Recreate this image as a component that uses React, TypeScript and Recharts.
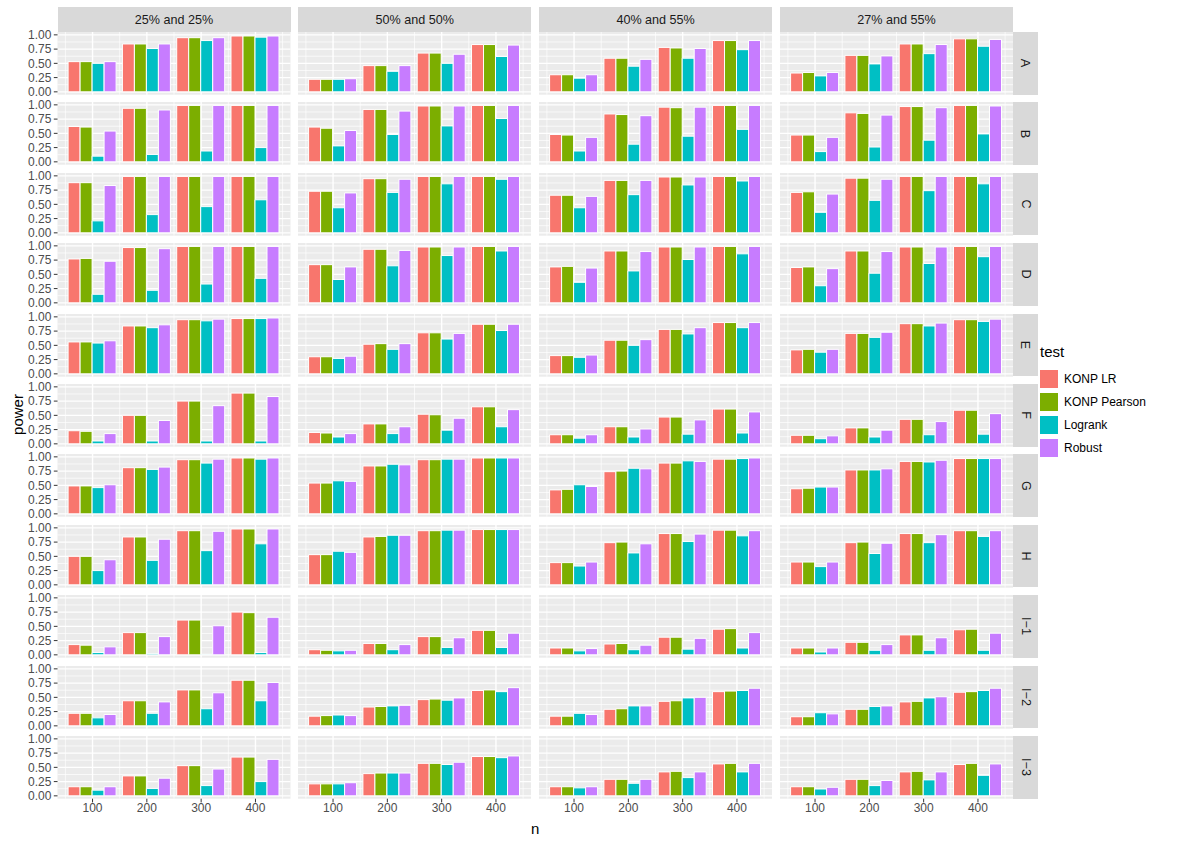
import React from "react";
import { BarChart, Bar, XAxis, YAxis, CartesianGrid } from "recharts";

const scenarios = ["25% and 25%", "50% and 50%", "40% and 55%", "27% and 55%"];
const models = ["A", "B", "C", "D", "E", "F", "G", "H", "I\u22121", "I\u22122", "I\u22123"];
const sizes = [100, 200, 300, 400];
const tests = ["KONP LR", "KONP Pearson", "Logrank", "Robust"];
const testColors = ["#F8766D", "#7CAE00", "#00BFC4", "#C77CFF"];
const yTicks = [0, 0.25, 0.5, 0.75, 1];
const yMinor = [0.125, 0.375, 0.625, 0.875];
const xMinor = [50, 150, 250, 350, 450];

// power[model][n] -> [KONP LR, KONP Pearson, Logrank, Robust]
const power25and25 = [
  [[0.53, 0.53, 0.5, 0.53], [0.84, 0.84, 0.76, 0.84], [0.95, 0.95, 0.9, 0.95], [0.98, 0.98, 0.96, 0.98]],
  [[0.62, 0.61, 0.1, 0.54], [0.94, 0.94, 0.13, 0.91], [0.99, 0.99, 0.19, 0.99], [0.99, 0.99, 0.25, 0.99]],
  [[0.88, 0.88, 0.21, 0.83], [0.99, 0.99, 0.32, 0.99], [0.99, 0.99, 0.46, 0.99], [0.99, 0.99, 0.58, 0.99]],
  [[0.77, 0.78, 0.15, 0.73], [0.97, 0.97, 0.22, 0.95], [0.99, 0.99, 0.33, 0.99], [0.99, 0.99, 0.43, 0.99]],
  [[0.56, 0.56, 0.54, 0.58], [0.84, 0.84, 0.81, 0.86], [0.95, 0.95, 0.93, 0.96], [0.97, 0.97, 0.97, 0.98]],
  [[0.23, 0.22, 0.05, 0.18], [0.5, 0.5, 0.05, 0.41], [0.75, 0.75, 0.05, 0.67], [0.89, 0.89, 0.05, 0.83]],
  [[0.49, 0.49, 0.46, 0.51], [0.81, 0.81, 0.78, 0.82], [0.95, 0.95, 0.89, 0.96], [0.98, 0.98, 0.96, 0.98]],
  [[0.5, 0.5, 0.25, 0.44], [0.84, 0.84, 0.43, 0.8], [0.95, 0.95, 0.6, 0.94], [0.98, 0.98, 0.72, 0.98]],
  [[0.18, 0.17, 0.04, 0.14], [0.39, 0.39, 0.02, 0.32], [0.61, 0.61, 0.01, 0.51], [0.75, 0.74, 0.04, 0.66]],
  [[0.22, 0.22, 0.14, 0.2], [0.44, 0.44, 0.22, 0.42], [0.63, 0.63, 0.3, 0.58], [0.8, 0.8, 0.44, 0.76]],
  [[0.16, 0.16, 0.1, 0.16], [0.35, 0.35, 0.13, 0.31], [0.53, 0.53, 0.18, 0.47], [0.68, 0.68, 0.25, 0.64]],
];

const power50and50 = [
  [[0.22, 0.22, 0.22, 0.23], [0.46, 0.46, 0.36, 0.46], [0.68, 0.68, 0.5, 0.66], [0.83, 0.83, 0.62, 0.82]],
  [[0.61, 0.59, 0.28, 0.55], [0.92, 0.92, 0.48, 0.89], [0.98, 0.98, 0.63, 0.98], [0.99, 0.99, 0.76, 0.99]],
  [[0.73, 0.73, 0.44, 0.7], [0.95, 0.95, 0.71, 0.94], [0.99, 0.99, 0.86, 0.99], [0.99, 0.99, 0.94, 0.99]],
  [[0.67, 0.67, 0.41, 0.63], [0.94, 0.94, 0.65, 0.92], [0.98, 0.98, 0.83, 0.98], [0.99, 0.99, 0.91, 0.99]],
  [[0.3, 0.3, 0.27, 0.31], [0.52, 0.53, 0.43, 0.53], [0.72, 0.72, 0.61, 0.71], [0.87, 0.87, 0.76, 0.87]],
  [[0.2, 0.19, 0.12, 0.18], [0.35, 0.35, 0.18, 0.3], [0.52, 0.51, 0.24, 0.45], [0.65, 0.65, 0.3, 0.6]],
  [[0.54, 0.54, 0.58, 0.57], [0.84, 0.84, 0.87, 0.86], [0.95, 0.95, 0.96, 0.96], [0.98, 0.98, 0.98, 0.98]],
  [[0.53, 0.53, 0.59, 0.57], [0.84, 0.85, 0.87, 0.87], [0.95, 0.95, 0.96, 0.96], [0.97, 0.97, 0.97, 0.97]],
  [[0.09, 0.08, 0.07, 0.08], [0.2, 0.2, 0.09, 0.18], [0.32, 0.32, 0.13, 0.3], [0.43, 0.43, 0.13, 0.38]],
  [[0.17, 0.18, 0.19, 0.18], [0.33, 0.34, 0.35, 0.36], [0.46, 0.47, 0.45, 0.49], [0.62, 0.63, 0.6, 0.67]],
  [[0.21, 0.21, 0.21, 0.23], [0.39, 0.4, 0.4, 0.4], [0.57, 0.57, 0.55, 0.59], [0.69, 0.69, 0.67, 0.7]],
];

const power40and55 = [
  [[0.3, 0.3, 0.24, 0.3], [0.59, 0.59, 0.45, 0.57], [0.78, 0.77, 0.59, 0.76], [0.9, 0.9, 0.74, 0.9]],
  [[0.48, 0.47, 0.19, 0.43], [0.84, 0.83, 0.31, 0.81], [0.96, 0.95, 0.45, 0.96], [0.99, 0.99, 0.57, 0.99]],
  [[0.66, 0.66, 0.44, 0.64], [0.92, 0.92, 0.67, 0.92], [0.98, 0.98, 0.84, 0.98], [0.99, 0.99, 0.91, 0.99]],
  [[0.63, 0.64, 0.36, 0.61], [0.91, 0.91, 0.56, 0.9], [0.98, 0.98, 0.76, 0.98], [0.99, 0.99, 0.86, 0.99]],
  [[0.32, 0.32, 0.29, 0.33], [0.59, 0.59, 0.5, 0.6], [0.78, 0.78, 0.7, 0.81], [0.9, 0.9, 0.81, 0.9]],
  [[0.16, 0.16, 0.1, 0.16], [0.3, 0.3, 0.12, 0.26], [0.47, 0.47, 0.17, 0.42], [0.61, 0.61, 0.19, 0.56]],
  [[0.42, 0.43, 0.51, 0.48], [0.74, 0.75, 0.8, 0.79], [0.89, 0.89, 0.93, 0.92], [0.96, 0.96, 0.97, 0.98]],
  [[0.39, 0.39, 0.33, 0.4], [0.74, 0.75, 0.56, 0.72], [0.9, 0.9, 0.76, 0.89], [0.96, 0.96, 0.86, 0.95]],
  [[0.12, 0.12, 0.07, 0.11], [0.19, 0.2, 0.09, 0.17], [0.31, 0.31, 0.1, 0.29], [0.45, 0.46, 0.12, 0.39]],
  [[0.17, 0.17, 0.22, 0.2], [0.29, 0.3, 0.35, 0.35], [0.43, 0.44, 0.49, 0.5], [0.6, 0.61, 0.62, 0.66]],
  [[0.16, 0.16, 0.14, 0.16], [0.29, 0.29, 0.22, 0.29], [0.42, 0.43, 0.32, 0.42], [0.56, 0.57, 0.42, 0.57]],
];

const power27and55 = [
  [[0.33, 0.34, 0.28, 0.34], [0.64, 0.64, 0.49, 0.63], [0.84, 0.84, 0.67, 0.83], [0.93, 0.93, 0.8, 0.92]],
  [[0.47, 0.47, 0.18, 0.43], [0.86, 0.85, 0.26, 0.82], [0.97, 0.97, 0.38, 0.95], [0.99, 0.99, 0.49, 0.98]],
  [[0.71, 0.72, 0.36, 0.68], [0.96, 0.96, 0.57, 0.94], [0.99, 0.99, 0.74, 0.99], [0.99, 0.99, 0.86, 0.99]],
  [[0.62, 0.63, 0.3, 0.6], [0.91, 0.91, 0.52, 0.9], [0.98, 0.98, 0.69, 0.98], [0.99, 0.99, 0.81, 0.99]],
  [[0.42, 0.43, 0.38, 0.43], [0.71, 0.71, 0.64, 0.73], [0.88, 0.88, 0.84, 0.89], [0.95, 0.95, 0.92, 0.96]],
  [[0.15, 0.15, 0.09, 0.14], [0.28, 0.28, 0.12, 0.24], [0.43, 0.43, 0.16, 0.39], [0.59, 0.59, 0.17, 0.53]],
  [[0.44, 0.45, 0.47, 0.47], [0.77, 0.77, 0.77, 0.79], [0.92, 0.92, 0.91, 0.94], [0.97, 0.97, 0.97, 0.97]],
  [[0.4, 0.4, 0.32, 0.4], [0.74, 0.75, 0.55, 0.73], [0.9, 0.9, 0.74, 0.88], [0.95, 0.95, 0.85, 0.95]],
  [[0.12, 0.12, 0.05, 0.12], [0.22, 0.22, 0.08, 0.18], [0.35, 0.35, 0.08, 0.3], [0.44, 0.45, 0.08, 0.38]],
  [[0.16, 0.16, 0.23, 0.21], [0.29, 0.29, 0.34, 0.35], [0.42, 0.43, 0.49, 0.51], [0.59, 0.6, 0.62, 0.66]],
  [[0.16, 0.16, 0.12, 0.15], [0.29, 0.29, 0.18, 0.27], [0.42, 0.43, 0.28, 0.42], [0.55, 0.57, 0.36, 0.56]],
];

const powerByScenario = [power25and25, power50and50, power40and55, power27and55];

// layout
const PANEL_W = 233;
const PANEL_H = 62.7;
const COL_X0 = 57.5;
const COL_STEP = 240.8;
const ROW_Y0 = 31.9;
const ROW_STEP = 70.4;
const Y_AXIS_W = 57.5;
const X_AXIS_H = 22;
const PAD = 8; // room so the end tick labels are not clipped
const STRIP = 24.5;
const FONT = '"Liberation Sans", Arial, Helvetica, sans-serif';
const TICK_FONT = 12;
const STRIP_FONT = 12.6;

const X_DOMAIN = [35.5, 464.5];
const Y_DOMAIN = [-0.05, 1.05];

const sc = (axis: any, v: number) => {
  if (!axis || !axis.scale) return 0;
  const s = axis.scale;
  return typeof s === "function" ? s(v) : s.map(v);
};

const Panel = ({ values, showY, showX, left, top }: any) => {
  const data = sizes.map((n, i) => {
    const row: any = { n };
    tests.forEach((t, k) => (row[t] = values[i][k]));
    return row;
  });
  const w = PANEL_W + (showY ? Y_AXIS_W : 0);
  const h = PANEL_H + (showX ? X_AXIS_H : 0) + 2 * PAD;

  return (
    <div style={{ position: "absolute", left: left - (showY ? Y_AXIS_W : 0), top: top - PAD }}>
      <BarChart
        width={w}
        height={h}
        data={data}
        margin={{ top: PAD, right: 0, bottom: PAD, left: 0 }}
        barCategoryGap="5%"
        barGap={0}
      >
        <CartesianGrid
          fill="#EBEBEB"
          stroke="#FFFFFF"
          strokeWidth={0.7}
          horizontalCoordinatesGenerator={({ yAxis }: any) => yMinor.map((v) => sc(yAxis, v))}
          verticalCoordinatesGenerator={({ xAxis }: any) => xMinor.map((v) => sc(xAxis, v))}
        />
        <CartesianGrid
          stroke="#FFFFFF"
          strokeWidth={1.4}
          horizontalCoordinatesGenerator={({ yAxis }: any) => yTicks.map((v) => sc(yAxis, v))}
          verticalCoordinatesGenerator={({ xAxis }: any) => sizes.map((v) => sc(xAxis, v))}
        />
        <XAxis
          dataKey="n"
          type="number"
          domain={X_DOMAIN}
          ticks={sizes}
          interval={0}
          allowDataOverflow
          hide={!showX}
          height={X_AXIS_H}
          axisLine={false}
          tickLine={{ stroke: "#333333" }}
          tickSize={3.7}
          tickMargin={1.5}
          tick={{ fill: "#4D4D4D", fontSize: TICK_FONT }}
        />
        <YAxis
          type="number"
          domain={Y_DOMAIN}
          ticks={yTicks}
          interval={0}
          allowDataOverflow
          hide={!showY}
          width={Y_AXIS_W}
          axisLine={false}
          tickLine={{ stroke: "#333333" }}
          tickSize={3.7}
          tickMargin={2.5}
          tick={{ fill: "#4D4D4D", fontSize: TICK_FONT }}
          tickFormatter={(v: number) => v.toFixed(2)}
        />
        {tests.map((t, k) => (
          <Bar
            key={t}
            dataKey={t}
            fill={testColors[k]}
            stroke="#FFFFFF"
            strokeWidth={1}
            isAnimationActive={false}
          />
        ))}
      </BarChart>
    </div>
  );
};

export default function App() {
  const lastRow = models.length - 1;
  const gridRight = COL_X0 + (scenarios.length - 1) * COL_STEP + PANEL_W;
  const gridBottom = ROW_Y0 + lastRow * ROW_STEP + PANEL_H;

  return (
    <div
      style={{
        position: "absolute",
        left: 0,
        top: 0,
        width: 1194,
        height: 845,
        background: "#FFFFFF",
        fontFamily: FONT,
        overflow: "hidden",
      }}
    >
      {scenarios.map((s, c) => (
        <div
          key={s}
          style={{
            position: "absolute",
            left: COL_X0 + c * COL_STEP,
            top: ROW_Y0 - STRIP,
            width: PANEL_W,
            height: STRIP,
            background: "#D9D9D9",
            color: "#1A1A1A",
            fontSize: STRIP_FONT,
            display: "flex",
            alignItems: "center",
            justifyContent: "center",
          }}
        >
          {s}
        </div>
      ))}

      {models.map((m, r) => (
        <div
          key={m}
          style={{
            position: "absolute",
            left: gridRight + 0.5,
            top: ROW_Y0 + r * ROW_STEP,
            width: STRIP,
            height: PANEL_H,
            background: "#D9D9D9",
            color: "#1A1A1A",
            fontSize: STRIP_FONT,
            display: "flex",
            alignItems: "center",
            justifyContent: "center",
          }}
        >
          <span style={{ transform: "rotate(90deg)", whiteSpace: "nowrap" }}>{m}</span>
        </div>
      ))}

      {models.map((m, r) =>
        scenarios.map((s, c) => (
          <Panel
            key={m + s}
            values={powerByScenario[c][r]}
            showY={c === 0}
            showX={r === lastRow}
            left={COL_X0 + c * COL_STEP}
            top={ROW_Y0 + r * ROW_STEP}
          />
        ))
      )}

      <div
        style={{
          position: "absolute",
          left: (COL_X0 + gridRight) / 2 - 20,
          width: 40,
          top: 820,
          textAlign: "center",
          fontSize: 15,
          color: "#000",
        }}
      >
        n
      </div>
      <div
        style={{
          position: "absolute",
          left: 17 - 30,
          top: (ROW_Y0 + gridBottom) / 2 - 9,
          width: 60,
          textAlign: "center",
          fontSize: 15,
          color: "#000",
          transform: "rotate(-90deg)",
        }}
      >
        power
      </div>

      <div style={{ position: "absolute", left: 1040, top: 343 }}>
        <div style={{ fontSize: 15, color: "#000", marginBottom: 7 }}>test</div>
        {tests.map((t, k) => (
          <div key={t} style={{ display: "flex", alignItems: "center", height: 23 }}>
            <div
              style={{
                width: 18,
                height: 18,
                background: testColors[k],
                marginRight: 6,
              }}
            />
            <span style={{ fontSize: TICK_FONT, color: "#000" }}>{t}</span>
          </div>
        ))}
      </div>
    </div>
  );
}
